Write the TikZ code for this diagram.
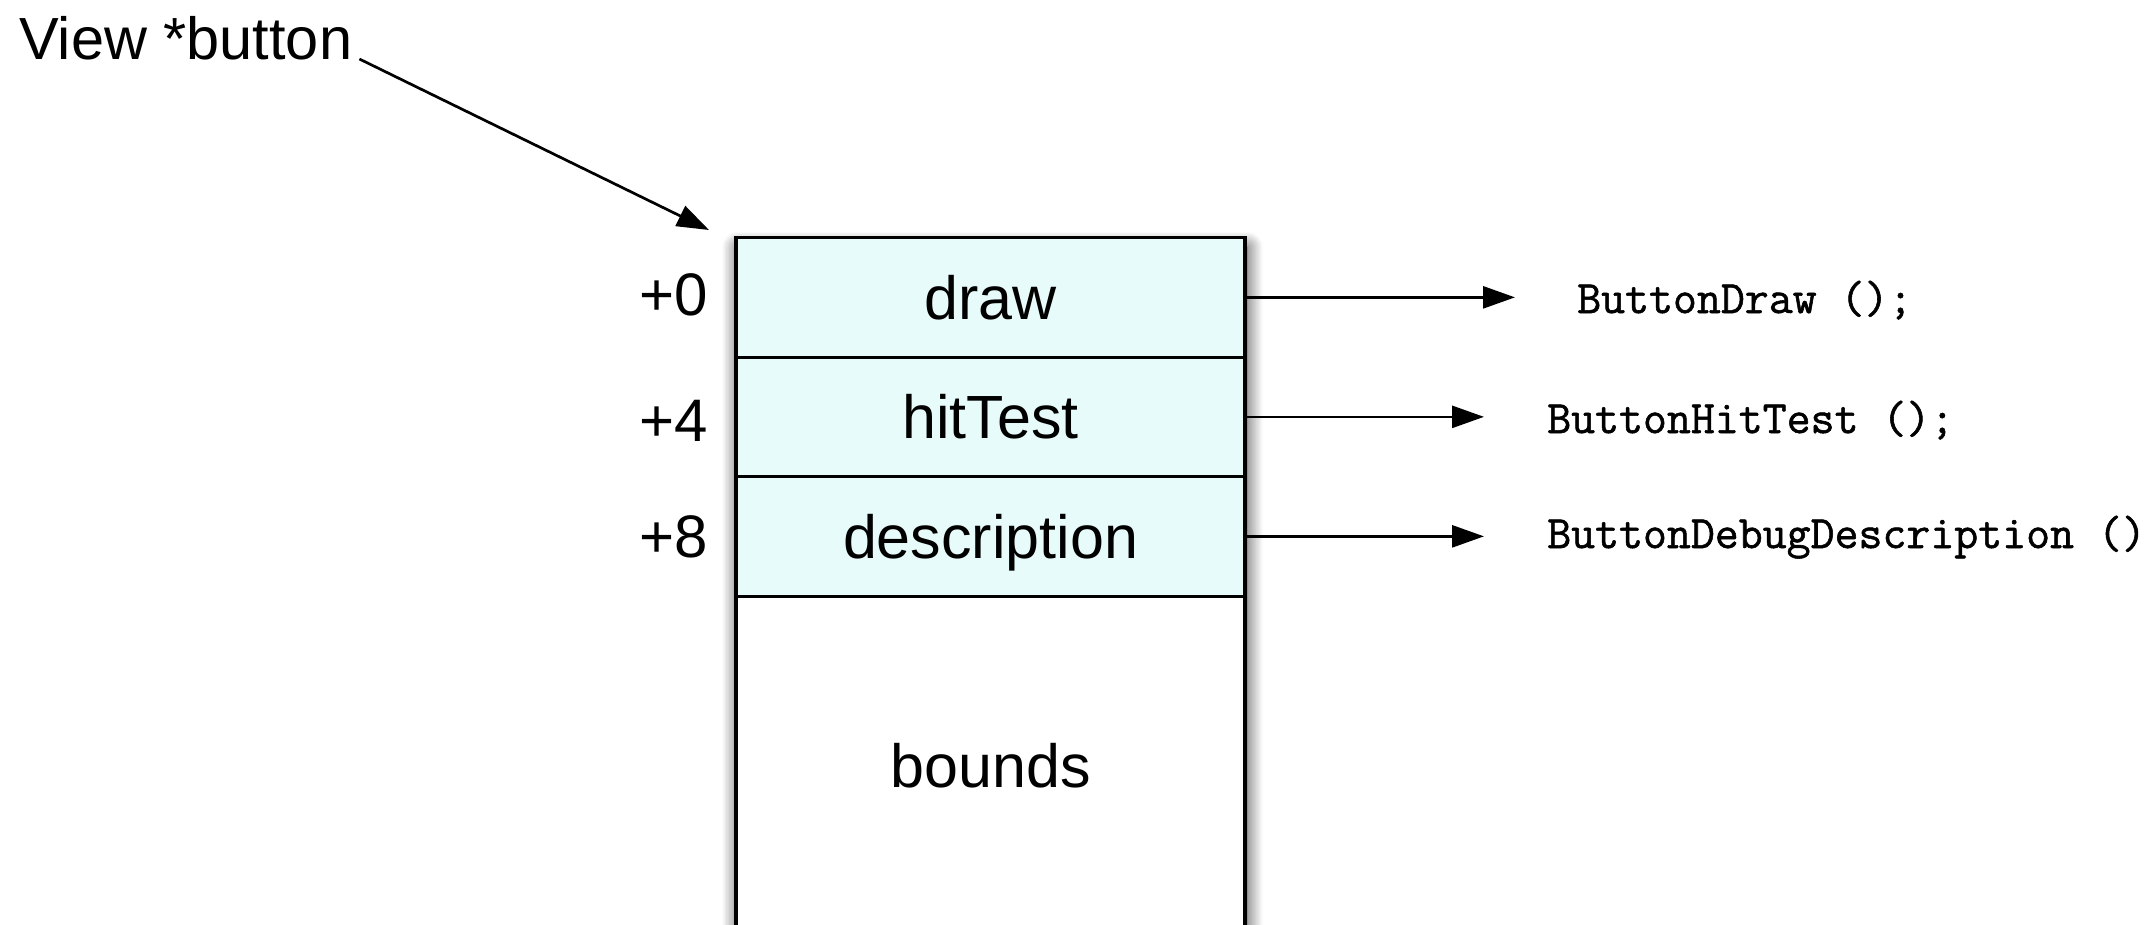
\documentclass[tikz,border=0pt]{standalone}
\usepackage{fontspec}
\setmainfont{Liberation Sans}
\newfontfamily\codefont[FakeBold=1.2]{Latin Modern Mono}
\usetikzlibrary{arrows.meta,shadows.blur}
\definecolor{slotfill}{RGB}{231,252,250}
\begin{document}
\begin{tikzpicture}[x=1pt,y=-1pt,
  lbl/.style={font=\fontsize{60}{72}\selectfont, inner sep=0pt},
  slot/.style={draw, line width=3.2pt, fill=slotfill, minimum width=509pt,
    minimum height=119.5pt, anchor=north, inner sep=0pt,
    font=\fontsize{61}{72}\selectfont, text height=44pt, text depth=0pt},
  code/.style={font=\codefont\fontsize{46.5}{56}\selectfont, inner sep=0pt, anchor=base west},
  link/.style={line width=2.7pt, -{Triangle[length=32pt,width=22pt]}}]
\useasboundingbox (0,0) rectangle (2150,924);

% object record with its soft shadow
\node[draw, line width=3.2pt, fill=white, minimum width=509pt, minimum height=698pt,
  anchor=north, inner sep=0pt,
  blur shadow={shadow xshift=2pt, shadow yshift=-10pt, shadow blur radius=16pt,
    shadow blur steps=12, shadow opacity=80}]
  (obj) at (990.5,236) {};

% slots of the record
\node[slot] (r1) at (990.5,236) {draw};
\node[slot] (r2) at (990.5,355.5) {hitTest};
\node[slot] (r3) at (990.5,475) {description};
\node[slot, fill=white, minimum height=339.5pt] (r4) at (990.5,594.5) {bounds};

% byte offsets
\node[lbl, anchor=base east] (o0) at (708,315) {+0};
\node[lbl, anchor=base east] (o4) at (708,441) {+4};
\node[lbl, anchor=base east] (o8) at (708,557) {+8};

% pointer to the record
\node[lbl, anchor=base west, font=\fontsize{59.5}{72}\selectfont] (view) at (19,59) {View *button};
\coordinate (vtip) at (709,230);
\draw[link] ([xshift=7pt]view.base east) -- (vtip);

% functions the slots point to
\node[code] (c1) at (1577,313) {ButtonDraw ();};
\node[code] (c2) at (1547,433) {ButtonHitTest ();};
\node[code] (c3) at (1547,548) {ButtonDebugDescription ()};

\draw[link, shorten >=62pt] (r1.east) -- (r1.east -| c1.west);
\draw[link, shorten >=63pt] (r2.east) -- (r2.east -| c2.west);
\draw[link, shorten >=63pt] (r3.east) -- (r3.east -| c3.west);
\end{tikzpicture}
\end{document}
